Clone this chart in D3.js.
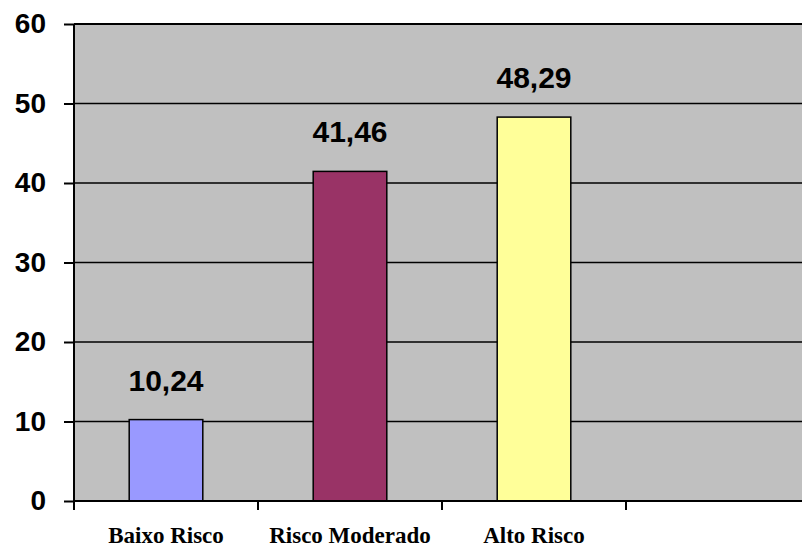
<!DOCTYPE html>
<html>
<head>
<meta charset="utf-8">
<script src="https://cdn.jsdelivr.net/npm/d3@7"></script>
<style>
  body { margin: 0; background: #fff; }
  svg { display: block; }
</style>
</head>
<body>
<div id="chart"></div>
<script>
// data
var categories = ["Baixo Risco", "Risco Moderado", "Alto Risco"];
var values = [10.24, 41.46, 48.29];
var valueLabels = ["10,24", "41,46", "48,29"];
var barColors = ["#9999FF", "#993366", "#FFFF99"];
var yTicks = [0, 10, 20, 30, 40, 50, 60];

var svgWidth = 802;
var svgHeight = 549;

var margin = { top: 24, right: 0, bottom: 48, left: 74 };
var height = svgHeight - margin.top - margin.bottom;
var slotCount = 4; // three bars plus one empty slot on the right
var slotWidth = 184;

var svg = d3.select("#chart")
    .append("svg")
    .attr("width", svgWidth)
    .attr("height", svgHeight);

var chartGroup = svg.append("g")
    .attr("transform", `translate(${margin.left}, ${margin.top})`);

// scales
var xBandScale = d3.scaleBand()
    .domain(d3.range(slotCount))
    .range([0, slotWidth * slotCount])
    .paddingInner(0.6)
    .paddingOuter(0.3);

var yLinearScale = d3.scaleLinear()
    .domain([0, 60])
    .range([height, 0]);

// plot background
chartGroup.append("rect")
    .attr("x", 0)
    .attr("y", 0)
    .attr("width", svgWidth - margin.left)
    .attr("height", height)
    .attr("fill", "#C0C0C0");

// gridlines
chartGroup.selectAll(".grid")
    .data(yTicks.filter(d => d > 0))
    .enter()
    .append("line")
    .attr("x1", 0)
    .attr("x2", svgWidth - margin.left)
    .attr("y1", d => yLinearScale(d))
    .attr("y2", d => yLinearScale(d))
    .attr("stroke", "#000")
    .attr("stroke-width", d => d === 60 ? 2.2 : 1.7);

// bars
chartGroup.selectAll(".bar")
    .data(values)
    .enter()
    .append("rect")
    .attr("x", (d, i) => xBandScale(i))
    .attr("y", d => yLinearScale(d))
    .attr("width", xBandScale.bandwidth())
    .attr("height", d => height - yLinearScale(d))
    .attr("fill", (d, i) => barColors[i])
    .attr("stroke", "#000")
    .attr("stroke-width", 1.5);

// value labels
chartGroup.selectAll(".val")
    .data(values)
    .enter()
    .append("text")
    .attr("x", (d, i) => xBandScale(i) + xBandScale.bandwidth() / 2)
    .attr("y", d => yLinearScale(d) - 29)
    .attr("text-anchor", "middle")
    .style("font-family", "Liberation Sans, Arial, sans-serif")
    .style("font-weight", "bold")
    .style("font-size", "30px")
    .text((d, i) => valueLabels[i]);

// left axis
var leftAxis = d3.axisLeft(yLinearScale)
    .tickValues(yTicks)
    .tickSize(10)
    .tickPadding(18);

var yAxisGroup = chartGroup.append("g").call(leftAxis);
yAxisGroup.select(".domain").remove();
yAxisGroup.selectAll("line").attr("stroke", "#000").attr("stroke-width", 2);
yAxisGroup.selectAll("text")
    .style("font-family", "Liberation Sans, Arial, sans-serif")
    .style("font-weight", "bold")
    .style("font-size", "28px")
    .attr("fill", "#000");

chartGroup.append("line")
    .attr("x1", 0).attr("x2", 0)
    .attr("y1", 0).attr("y2", height)
    .attr("stroke", "#000")
    .attr("stroke-width", 2);

// bottom axis
chartGroup.append("line")
    .attr("x1", 0).attr("x2", svgWidth - margin.left)
    .attr("y1", height).attr("y2", height)
    .attr("stroke", "#000")
    .attr("stroke-width", 2);

chartGroup.selectAll(".xtick")
    .data(d3.range(slotCount))
    .enter()
    .append("line")
    .attr("x1", d => d * xBandScale.step())
    .attr("x2", d => d * xBandScale.step())
    .attr("y1", height)
    .attr("y2", height + 9)
    .attr("stroke", "#000")
    .attr("stroke-width", 2);

// category labels
chartGroup.selectAll(".cat")
    .data(categories)
    .enter()
    .append("text")
    .attr("x", (d, i) => xBandScale(i) + xBandScale.bandwidth() / 2)
    .attr("y", height + 42)
    .attr("text-anchor", "middle")
    .style("font-family", "Liberation Serif, Times New Roman, serif")
    .style("font-weight", "bold")
    .style("font-size", "23px")
    .text(d => d);
</script>
</body>
</html>
